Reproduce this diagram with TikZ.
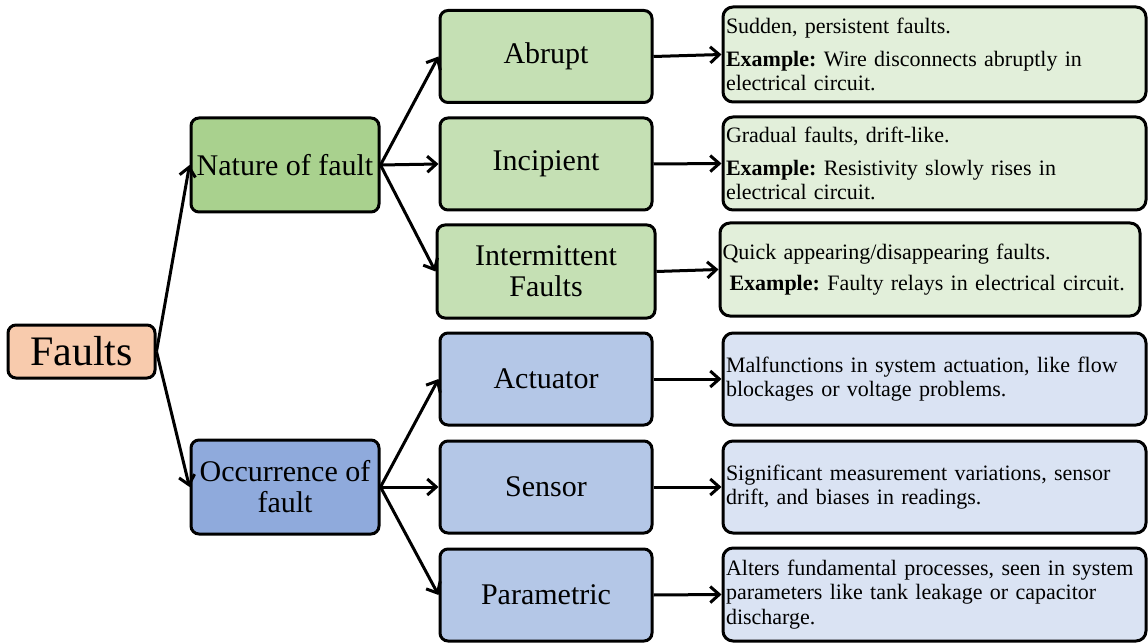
\documentclass[tikz,border=0pt]{standalone}
\usepackage{fontspec}
\setmainfont{Liberation Serif}
\usetikzlibrary{arrows.meta}
\definecolor{peach}{HTML}{F8CBAD}
\definecolor{gmid}{HTML}{A9D18E}
\definecolor{gleaf}{HTML}{C5E0B4}
\definecolor{gdesc}{HTML}{E2EFDA}
\definecolor{bmid}{HTML}{8FAADC}
\definecolor{bleaf}{HTML}{B4C7E7}
\definecolor{bdesc}{HTML}{DAE3F3}
\newcommand{\mydescfont}{\fontsize{22}{24.5}\selectfont\frenchspacing\hyphenpenalty=10000 }
\tikzset{
  box/.style={draw=black, line width=3pt, rounded corners=8pt, align=center, inner sep=2pt},
  rootbox/.style={box, fill=peach, minimum width=147pt, minimum height=53pt, font=\fontsize{42}{44}\selectfont},
  midbox/.style={box, minimum width=188pt, minimum height=94pt, font=\fontsize{30}{31}\selectfont},
  leafbox/.style={box, minimum width=212pt, minimum height=92pt, font=\fontsize{30}{31}\selectfont},
  descbox/.style={box, rounded corners=10pt, minimum width=423pt, minimum height=93pt, text width=417pt, align=left, inner xsep=3pt, font=\mydescfont},
  arr/.style={line width=3pt, -{Straight Barb[length=9pt,width=16pt,line width=3pt]}},
}
\begin{document}
\begin{tikzpicture}[x=1pt,y=-1pt]
\useasboundingbox (0,0) rectangle (1148,644);
\node[rootbox] (faults) at (81.5,351.5) {Faults};
\node[midbox, fill=gmid] (nature) at (285,165) {Nature of fault};
\node[midbox, fill=bmid] (occ) at (285,487) {Occurrence of\\fault};

\node[leafbox, fill=gleaf] (abrupt) at (546,56.5) {Abrupt};
\node[leafbox, fill=gleaf] (incip) at (546,164) {Incipient};
\node[leafbox, fill=gleaf, minimum width=218pt, minimum height=93pt] (inter) at (546,271.5) {Intermittent\\Faults};
\node[leafbox, fill=bleaf] (act) at (546,379) {Actuator};
\node[leafbox, fill=bleaf] (sens) at (546,487) {Sensor};
\node[leafbox, fill=bleaf] (param) at (546,595) {Parametric};

\node[descbox, fill=gdesc, minimum height=95pt] (d1) at (934.5,54.5) {Sudden, persistent faults.\\[8pt]\textbf{Example:} Wire disconnects abruptly in\\electrical circuit.};
\node[descbox, fill=gdesc] (d2) at (934.5,163.5) {Gradual faults, drift-like.\\[8pt]\textbf{Example:} Resistivity slowly rises in\\electrical circuit.};
\node[descbox, fill=gdesc, minimum width=420pt, text width=415pt, inner xsep=2pt] (d3) at (930,269.5) {Quick appearing/disappearing faults.\\[7pt]\hspace*{7pt}\textbf{Example:} Faulty relays in electrical circuit.};
\node[descbox, fill=bdesc, minimum height=92pt] (d4) at (934.5,379) {Malfunctions in system actuation, like flow\\blockages or voltage problems.};
\node[descbox, fill=bdesc, minimum height=92pt] (d5) at (934.5,487) {Significant measurement variations, sensor\\drift, and biases in readings.};
\node[descbox, fill=bdesc] (d6) at (934.5,594.5) {Alters fundamental processes, seen in system\\parameters like tank leakage or capacitor\\discharge.};

\draw[arr] (faults.east) -- (nature.west);
\draw[arr] (faults.east) -- (occ.west);
\draw[arr] (nature.east) -- (abrupt.west);
\draw[arr] (nature.east) -- (incip.west);
\draw[arr] (nature.east) -- (inter.west);
\draw[arr] (occ.east) -- (act.west);
\draw[arr] (occ.east) -- (sens.west);
\draw[arr] (occ.east) -- (param.west);
\draw[arr] (abrupt.east) -- (d1.west);
\draw[arr] (incip.east) -- (d2.west);
\draw[arr] (inter.east) -- (d3.west);
\draw[arr] (act.east) -- (d4.west);
\draw[arr] (sens.east) -- (d5.west);
\draw[arr] (param.east) -- (d6.west);
\end{tikzpicture}
\end{document}
